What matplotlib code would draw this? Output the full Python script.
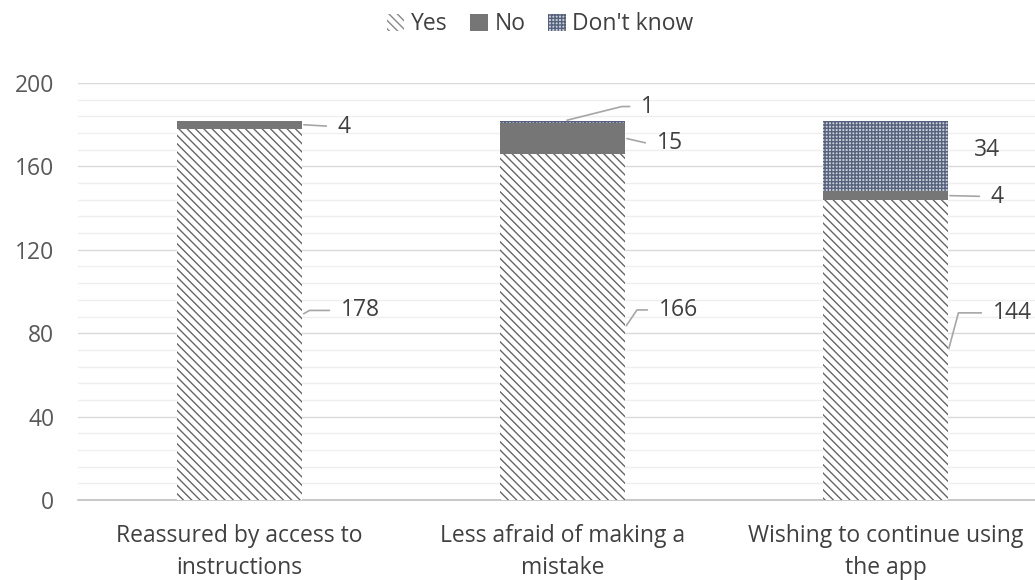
import numpy as np
import matplotlib
matplotlib.use('Agg')
import matplotlib.pyplot as plt
from matplotlib.patches import Patch
from matplotlib.ticker import MultipleLocator

# data
categories = ['Reassured by access to\ninstructions',
              'Less afraid of making a\nmistake',
              'Wishing to continue using\nthe app']
yes = [178, 166, 144]
no = [4, 15, 4]
dont_know = [0, 1, 34]

plt.rcParams['font.family'] = ['Open Sans', 'DejaVu Sans']
plt.rcParams['hatch.linewidth'] = 1.0

fig = plt.figure(figsize=(10.35, 5.8), dpi=100)
ax = fig.add_axes([78 / 1035, 80 / 580, 969 / 1035, 417 / 580])

x = np.arange(len(categories))
w = 0.39
yes_arr = np.array(yes)
no_arr = np.array(no)
dk_arr = np.array(dont_know)

ax.bar(x, yes_arr, w, color='white', edgecolor='#666666', hatch='\\' * 4, linewidth=0, zorder=3)
ax.bar(x, no_arr, w, bottom=yes_arr, color='#767676', linewidth=0, zorder=3)
ax.bar(x, dk_arr, w, bottom=yes_arr + no_arr, color='#c9cfda', edgecolor='#56627c',
       hatch='+' * 5, linewidth=0, zorder=3)

ax.set_xlim(-0.5, 2.5)
ax.set_ylim(0, 200)
ax.yaxis.set_major_locator(MultipleLocator(40))
ax.yaxis.set_minor_locator(MultipleLocator(8))
ax.grid(axis='y', which='major', color='#d9d9d9', lw=1, zorder=0)
ax.grid(axis='y', which='minor', color='#efefef', lw=1, zorder=0)
for s in ['top', 'right', 'left']:
    ax.spines[s].set_visible(False)
ax.spines['bottom'].set_color('#bfbfbf')
ax.spines['bottom'].set_linewidth(1.2)
ax.set_xticks(x)
ax.set_xticklabels(categories, fontsize=16.5, color='#404040', linespacing=1.45)
ax.tick_params(axis='x', length=0, pad=17)
ax.tick_params(axis='y', which='both', length=0, pad=17, labelsize=16.5, labelcolor='#595959')

# data labels: (bar index, segment, anchor side, dx px, dy px, leader angle)
mids = {
    'yes': yes_arr / 2,
    'no': yes_arr + no_arr / 2,
    'dk': yes_arr + no_arr + dk_arr / 2,
}
vals = {'yes': yes_arr, 'no': no_arr, 'dk': dk_arr}
label_layout = [
    (0, 'yes', 'right', 38, 4, 30),
    (0, 'no', 'right', 35, -2, None),
    (1, 'dk', 'top', 75, 14, 14),
    (1, 'no', 'right', 31, -5, -13),
    (1, 'yes', 'right', 33, 17, 56),
    (2, 'dk', 'noline', 25, 6, None),
    (2, 'no', 'right', 42, -1, None),
    (2, 'yes', 'right', 44, 37, 75),
]
px = 0.72
for i, seg, side, dx, dy, ang in label_layout:
    v = vals[seg][i]
    if side == 'top':
        xy = (x[i] + 0.01, yes_arr[i] + no_arr[i] + dk_arr[i])
    else:
        xy = (x[i] + w / 2, mids[seg][i])
    if side == 'noline':
        ax.annotate(str(v), xy=xy, xytext=(dx * px, dy * px), textcoords='offset points',
                    ha='left', va='center', fontsize=16.5, color='#404040')
        continue
    cs = 'arc3' if ang is None else 'angle,angleA=0,angleB=%d,rad=0' % ang
    ax.annotate(str(v), xy=xy, xytext=(dx * px, dy * px), textcoords='offset points',
                ha='left', va='center', fontsize=16.5, color='#404040',
                arrowprops=dict(arrowstyle='-', color='#a6a6a6', lw=1.2,
                                connectionstyle=cs, relpos=(0, 0.5),
                                shrinkA=6, shrinkB=1))

handles = [Patch(facecolor='white', edgecolor='#888888', hatch='\\' * 4, linewidth=0),
           Patch(facecolor='#767676', linewidth=0),
           Patch(facecolor='#c9cfda', edgecolor='#56627c', hatch='+' * 5, linewidth=0)]
fig.legend(handles, ['Yes', 'No', "Don't know"], loc='center', bbox_to_anchor=(0.522, 0.958),
           ncol=3, frameon=False, fontsize=16.5, handlelength=0.75, handleheight=0.75,
           handletextpad=0.3, columnspacing=1.0, labelcolor='#404040')

fig.savefig('out.png', dpi=100)
